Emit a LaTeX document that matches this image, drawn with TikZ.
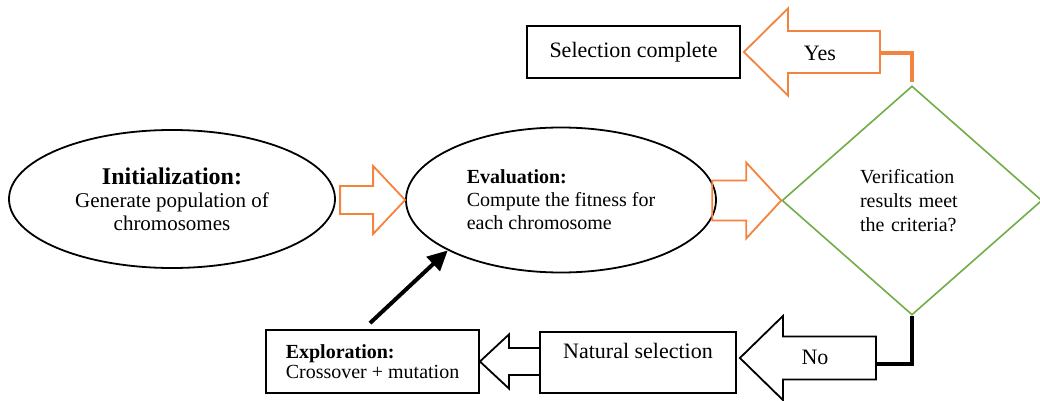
\documentclass[tikz,border=0pt]{standalone}
\usepackage{fontspec}
\setmainfont{Liberation Serif}
\usetikzlibrary{shapes.geometric,arrows.meta}
\definecolor{arroworange}{HTML}{F4833D}
\definecolor{diagreen}{HTML}{70AD47}

\begin{document}
\begin{tikzpicture}[x=0.5pt,y=-0.5pt,
			oval/.style={ellipse, draw, line width=0.9pt, inner sep=0pt},
			box/.style={rectangle, draw, line width=0.9pt, inner sep=2pt},
			decision/.style={diamond, draw=diagreen, line width=0.8pt, inner sep=0pt, text width=52pt, align=left, font=\fontsize{10}{12}\selectfont},
			fatarrow/.style={draw=arroworange, line width=0.9pt},
			hollowarrow/.style={draw, line width=0.9pt},
			arrowlab/.style={font=\fontsize{11}{13}\selectfont, inner sep=0pt},
			yesline/.style={draw=arroworange, line width=1.6pt},
			noline/.style={draw, line width=2pt},
			loopback/.style={draw, line width=2pt, -{Triangle[length=10pt,width=9.5pt]}}
				]
			\useasboundingbox (0,0) rectangle (1040,401);

			\node[oval, minimum width=163pt, minimum height=69pt, align=center, font=\fontsize{10.5}{11.5}\selectfont] (init) at (172,199) {{\fontsize{12}{12}\selectfont\textbf{Initialization:}}\\Generate population of\\chromosomes};
			\node[oval, minimum width=155pt, minimum height=72.5pt, align=left, font=\fontsize{10}{11.5}\selectfont] (eval) at (561,200) {\textbf{Evaluation:}\\Compute the fitness for\\each chromosome};
			\node[decision, minimum width=130pt, minimum height=114.5pt] (verify) at (912,200.5) {Verification\\results meet\\the criteria?};
			\node[box, minimum width=106.5pt, minimum height=26pt, font=\fontsize{11}{13}\selectfont] (done) at (633.5,52) {Selection complete};
			\node[box, minimum width=98pt, minimum height=30.5pt, text depth=12pt, font=\fontsize{11}{13}\selectfont] (natsel) at (638,362.5) {Natural selection};
			\node[box, minimum width=106.5pt, minimum height=31.5pt, align=left, font=\fontsize{10}{10}\selectfont] (explore) at (372.5,361.5) {\textbf{Exploration:}\\Crossover + mutation};

			%init -> eval
			\draw[fatarrow] (eval.west) -- ++(-32,-34) -- ++(0,20) -- ++(-33,0) -- ++(0,28) -- ++(33,0) -- ++(0,20) -- cycle;
			%eval -> verify
			\draw[fatarrow] (verify.west) -- ++(-35,-38) -- ++(0,18) -- ++(-34,0) -- ++(0,40) -- ++(34,0) -- ++(0,18) -- cycle;

			%Yes
			\draw[fatarrow] ([xshift=1.5pt]done.east) -- ++(44,-43.5) -- ++(0,22.5) -- ++(92,0) -- ++(0,42) -- ++(-92,0) -- ++(0,22.5) -- cycle;
			\coordinate (yestail) at ([xshift=69.5pt,yshift=-0.5pt]done.east);
			\node[arrowlab] (yes) at (820,53) {Yes};
			\draw[yesline] (yestail) -| ([yshift=1.5pt]verify.north);

			%No
			\draw[hollowarrow] ([xshift=1.5pt,yshift=2.25pt]natsel.east) -- ++(43,-42) -- ++(0,20.5) -- ++(93,0) -- ++(0,43) -- ++(-93,0) -- ++(0,20.5) -- cycle;
			\coordinate (notail) at (875,364);
			\node[arrowlab] (no) at (815,357) {No};
			\draw[noline] (notail) -| (verify.south);

			%natsel -> explore
			\draw[hollowarrow] (explore.east) -- ++(29,-27) -- ++(0,13.5) -- ++(31,0) -- ++(0,27) -- ++(-31,0) -- ++(0,13.5) -- cycle;

			%explore -> eval
			\draw[loopback] ([xshift=-1.25pt,yshift=3pt]explore.north) -- (eval.204);
	\end{tikzpicture}
\end{document}
